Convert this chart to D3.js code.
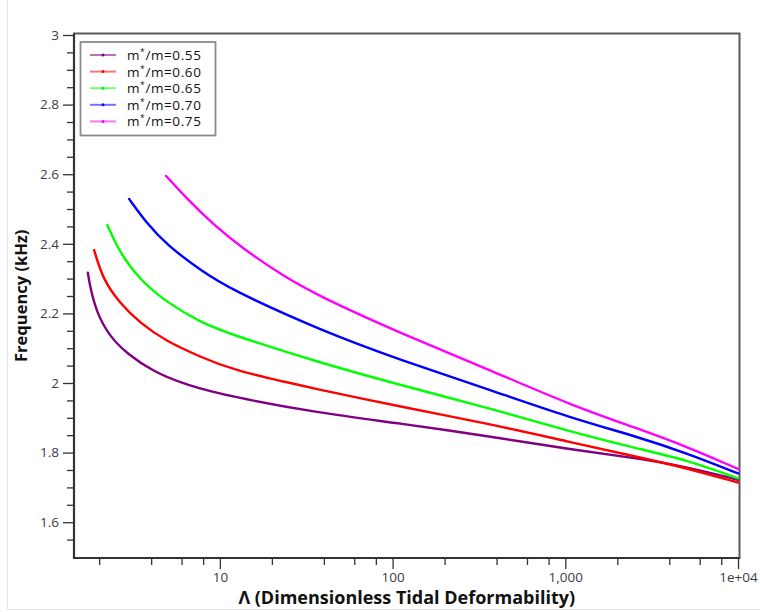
<!DOCTYPE html>
<html>
<head>
<meta charset="utf-8">
<script src="https://cdn.jsdelivr.net/npm/d3@7"></script>
<style>
  body { margin: 0; background: #fff; }
  text { font-family: "Open Sans", sans-serif; }
</style>
</head>
<body>
<div class="chart"></div>
<script>
/* data */
const seriesLabels = ["0.55", "0.60", "0.65", "0.70", "0.75"];
const colors = ["#800080", "#ff0000", "#00ff00", "#0000ff", "#ff00ff"];

const lambda055 = [1.72, 1.77, 1.94, 2.31, 2.89, 4.12, 6.43, 11.5, 38, 111, 368, 1070, 2600, 5070, 10000];
const freq055   = [2.317, 2.277, 2.200, 2.133, 2.085, 2.032, 1.994, 1.961, 1.913, 1.884, 1.846, 1.809, 1.784, 1.759, 1.722];

const lambda060 = [1.87, 2.11, 2.64, 3.45, 4.92, 7.68, 11.5, 38, 111, 368, 1070, 2600, 5070, 10000];
const freq060   = [2.382, 2.296, 2.229, 2.172, 2.119, 2.076, 2.038, 1.980, 1.932, 1.882, 1.830, 1.788, 1.755, 1.714];

const lambda065 = [2.23, 2.64, 3.45, 4.92, 7.68, 11.5, 38, 111, 368, 1070, 2600, 5070, 10000];
const freq065   = [2.454, 2.373, 2.296, 2.232, 2.175, 2.140, 2.058, 1.994, 1.927, 1.860, 1.812, 1.779, 1.726];

const lambda070 = [2.98, 3.77, 4.92, 7.68, 11.5, 38, 111, 368, 1070, 2600, 5070, 10000];
const freq070   = [2.529, 2.459, 2.397, 2.325, 2.269, 2.152, 2.066, 1.980, 1.900, 1.846, 1.798, 1.740];

const lambda075 = [4.88, 6.43, 9.17, 13.7, 23.3, 38, 111, 368, 1070, 2600, 5070, 10000];
const freq075   = [2.595, 2.530, 2.455, 2.385, 2.307, 2.248, 2.143, 2.037, 1.937, 1.870, 1.817, 1.753];

const lambdas = [lambda055, lambda060, lambda065, lambda070, lambda075];
const freqs = [freq055, freq060, freq065, freq070, freq075];

/* ticks */
const yTicks = [1.6, 1.8, 2, 2.2, 2.4, 2.6, 2.8, 3];
const yMinorTicks = [1.55, 1.65, 1.7, 1.75, 1.85, 1.9, 1.95, 2.05, 2.1, 2.15, 2.25, 2.3, 2.35, 2.45, 2.5, 2.55, 2.65, 2.7, 2.75, 2.85, 2.9, 2.95];
const xTicks = [10, 100, 1000, 10000];
const xTickLabels = ["10", "100", "1,000", "1e+04"];
const xMinorTicks = [2, 4, 6, 8, 20, 40, 60, 80, 200, 400, 600, 800, 2000, 4000, 6000, 8000];

/* layout */
const width = 760, height = 612;
const plot = {left: 74, right: 739.5, top: 33.5, bottom: 558};

const svg = d3.select(".chart")
  .append("svg")
  .attr("width", width)
  .attr("height", height);

/* faint outer panel edge */
svg.append("line").attr("x1", 7.5).attr("x2", 7.5).attr("y1", 0).attr("y2", 609.5)
  .attr("stroke", "#e4e4e4");
svg.append("line").attr("x1", 7.5).attr("x2", width).attr("y1", 609.5).attr("y2", 609.5)
  .attr("stroke", "#e4e4e4");

const xScale = d3.scaleLog()
  .domain([1.43, 10200])
  .range([plot.left, plot.right]);

const yScale = d3.scaleLinear()
  .domain([1.5, 3])
  .range([557, 35]);

/* frame */
svg.append("rect")
  .attr("x", plot.left)
  .attr("y", plot.top)
  .attr("width", plot.right - plot.left)
  .attr("height", plot.bottom - plot.top)
  .attr("fill", "none")
  .attr("stroke", "#5a5a5a")
  .attr("stroke-width", 2);

/* y axis */
svg.append("g")
  .attr("transform", `translate(${plot.left - 1}, 0)`)
  .call(d3.axisLeft(yScale).tickValues(yTicks).tickSize(10).tickPadding(4).tickFormat(d => String(d)));
svg.append("g")
  .attr("transform", `translate(${plot.left - 1}, 0)`)
  .call(d3.axisLeft(yScale).tickValues(yMinorTicks).tickSize(6).tickFormat(""));

/* x axis */
svg.append("g")
  .attr("transform", `translate(0, ${plot.bottom + 1})`)
  .call(d3.axisBottom(xScale).tickValues(xTicks).tickSize(10).tickPadding(3)
    .tickFormat((d, i) => xTickLabels[i]));
svg.append("g")
  .attr("transform", `translate(0, ${plot.bottom + 1})`)
  .call(d3.axisBottom(xScale).tickValues(xMinorTicks).tickSize(6).tickFormat(""));

svg.selectAll(".domain").remove();
svg.selectAll(".tick line").attr("stroke", "#333").attr("stroke-width", 1.3);
svg.selectAll(".tick text")
  .attr("fill", "#3c3c48")
  .style("font-size", "13.5px")
  .style("font-family", "\"Open Sans\", sans-serif");

/* darker left and bottom axis lines */
svg.append("line")
  .attr("x1", plot.left).attr("x2", plot.left)
  .attr("y1", plot.top).attr("y2", plot.bottom + 1)
  .attr("stroke", "#333").attr("stroke-width", 2.2);
svg.append("line")
  .attr("x1", plot.left).attr("x2", plot.right)
  .attr("y1", plot.bottom).attr("y2", plot.bottom)
  .attr("stroke", "#333").attr("stroke-width", 2.2);

/* axis titles */
svg.append("text")
  .attr("transform", `translate(27, ${(plot.top + plot.bottom) / 2}) rotate(-90)`)
  .attr("text-anchor", "middle")
  .style("font-size", "16.5px")
  .style("font-weight", "bold")
  .attr("fill", "#111")
  .text("Frequency (kHz)");

svg.append("text")
  .attr("x", (plot.left + plot.right) / 2)
  .attr("y", 604)
  .attr("text-anchor", "middle")
  .style("font-size", "18px")
  .style("font-weight", "bold")
  .attr("fill", "#111")
  .text("Λ (Dimensionless Tidal Deformability)");

/* curves */
const line = d3.line()
  .x(d => xScale(d[0]))
  .y(d => yScale(d[1]))
  .curve(d3.curveBasis);

seriesLabels.forEach((lab, i) => {
  const pts = lambdas[i].map((l, j) => [l, freqs[i][j]]);
  svg.append("path")
    .datum(pts)
    .attr("d", line)
    .attr("fill", "none")
    .attr("stroke", colors[i])
    .attr("stroke-width", 2.4)
    .attr("stroke-linecap", "round");
});

/* legend */
const legend = svg.append("g");
legend.append("rect")
  .attr("x", 80.5).attr("y", 42)
  .attr("width", 135).attr("height", 93.5)
  .attr("fill", "#fff")
  .attr("stroke", "#8a8a8a")
  .attr("stroke-width", 1.8);

seriesLabels.forEach((lab, i) => {
  const cy = 55 + i * 16.6;
  legend.append("line")
    .attr("x1", 90).attr("x2", 116)
    .attr("y1", cy).attr("y2", cy)
    .attr("stroke", colors[i])
    .attr("stroke-opacity", 0.55)
    .attr("stroke-width", 2);
  legend.append("circle")
    .attr("cx", 103).attr("cy", cy).attr("r", 1.5)
    .attr("fill", colors[i]);
  const t = legend.append("text")
    .attr("x", 127).attr("y", cy + 5)
    .style("font-size", "13.5px")
    .style("letter-spacing", "0.6px")
    .attr("fill", "#111");
  t.append("tspan").text("m");
  t.append("tspan").attr("dy", -5).style("font-size", "8.5px").text("*");
  t.append("tspan").attr("dy", 5).text("/m=" + lab);
});
</script>
</body>
</html>
